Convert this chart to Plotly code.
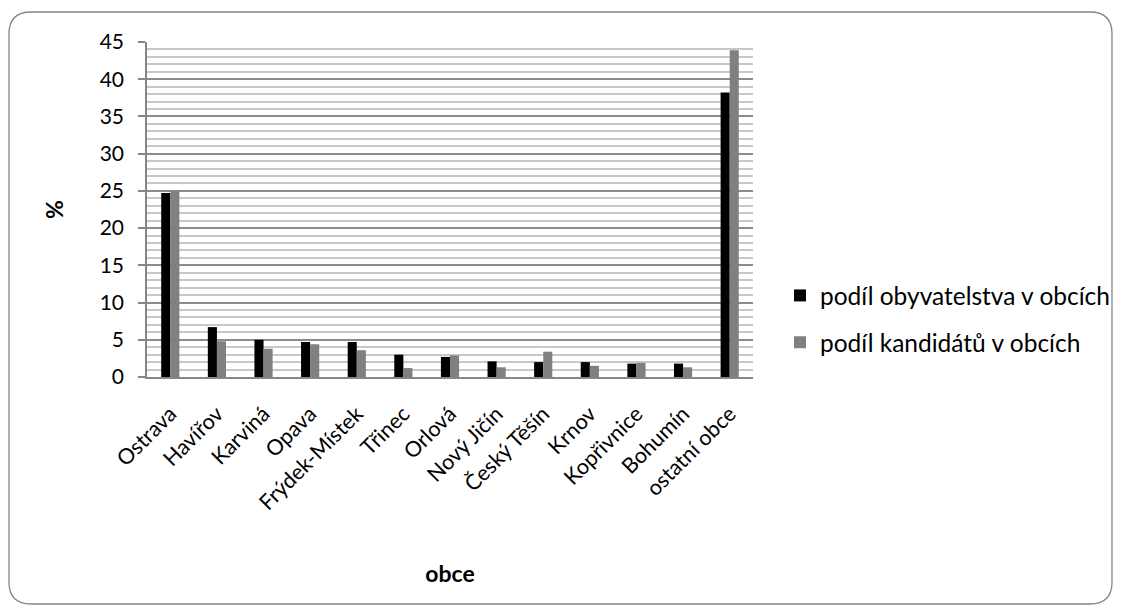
import plotly.graph_objects as go

categories = ["Ostrava", "Havířov", "Karviná", "Opava", "Frýdek-Místek", "Třinec", "Orlová",
              "Nový Jičín", "Český Těšín", "Krnov", "Kopřivnice", "Bohumín", "ostatní obce"]
obyvatelstvo = [24.7, 6.7, 5.0, 4.7, 4.7, 3.0, 2.7, 2.1, 2.0, 2.0, 1.8, 1.8, 38.2]
kandidati = [25.0, 4.8, 3.8, 4.4, 3.6, 1.2, 2.9, 1.3, 3.4, 1.5, 1.9, 1.3, 43.9]
series_names = ["podíl obyvatelstva v obcích", "podíl kandidátů v obcích"]
y_ticks = [0, 5, 10, 15, 20, 25, 30, 35, 40, 45]

W, H = 1122, 611
L, R, T, B = 147, 753, 42, 377
FONT = "Lato"

fig = go.Figure()
fig.add_trace(go.Bar(x=categories, y=obyvatelstvo, name=series_names[0], legendgroup="a",
                     marker=dict(color="#000000", line=dict(width=0))))
fig.add_trace(go.Bar(x=categories, y=kandidati, name=series_names[1], legendgroup="b",
                     marker=dict(color="#808080", line=dict(width=0))))

def px(x):
    return (x - L) / (R - L)

def py(y):
    return (B - y) / (B - T)

# rounded outer border
x0, x1, y0, y1, r = 9, 1112, 12, 604, 22
path = (f"M {px(x0+r)},{py(y0)} L {px(x1-r)},{py(y0)} Q {px(x1)},{py(y0)} {px(x1)},{py(y0+r)} "
        f"L {px(x1)},{py(y1-r)} Q {px(x1)},{py(y1)} {px(x1-r)},{py(y1)} "
        f"L {px(x0+r)},{py(y1)} Q {px(x0)},{py(y1)} {px(x0)},{py(y1-r)} "
        f"L {px(x0)},{py(y0+r)} Q {px(x0)},{py(y0)} {px(x0+r)},{py(y0)} Z")
fig.add_shape(type="path", path=path, xref="paper", yref="paper",
              line=dict(color="#868686", width=1.3), fillcolor="rgba(0,0,0,0)", layer="below")

fig.update_layout(
    width=W, height=H,
    margin=dict(l=L, r=W - R, t=T, b=H - B, pad=0, autoexpand=False),
    paper_bgcolor="white", plot_bgcolor="white",
    barmode="group", bargap=0.61, bargroupgap=0,
    font=dict(family=FONT, color="#000000", size=20),
    legend=dict(x=px(780), y=py(319), xanchor="left", yanchor="middle",
                font=dict(size=24.5, family=FONT), itemwidth=30, tracegroupgap=12,
                traceorder="grouped", bgcolor="rgba(0,0,0,0)"),
    showlegend=True,
)
fig.update_xaxes(
    type="category", tickangle=-45, showgrid=False, ticks="",
    showline=True, linecolor="#868686", linewidth=1.5,
    tickfont=dict(size=21.5, family=FONT), ticklabelstandoff=14,
    title=dict(text="<b>obce</b>", font=dict(size=23, family=FONT), standoff=52),
)
fig.update_yaxes(
    range=[0, 45], tickvals=y_ticks, ticktext=[str(v) for v in y_ticks],
    showgrid=True, gridcolor="#8c8c8c", gridwidth=1.5,
    minor=dict(dtick=1, showgrid=True, gridcolor="#c8c8c8", gridwidth=1.5, ticks=""),
    ticks="outside", ticklen=7, tickcolor="#868686", tickwidth=1.5,
    showline=True, linecolor="#868686", linewidth=1.5,
    tickfont=dict(size=21, family=FONT), ticklabelstandoff=10,
    title=dict(text="<b>%</b>", font=dict(size=23, family=FONT), standoff=30),
    zeroline=False,
)

fig.write_html("out.html", config={"displayModeBar": False},
               post_script="document.body.style.margin='0';")
